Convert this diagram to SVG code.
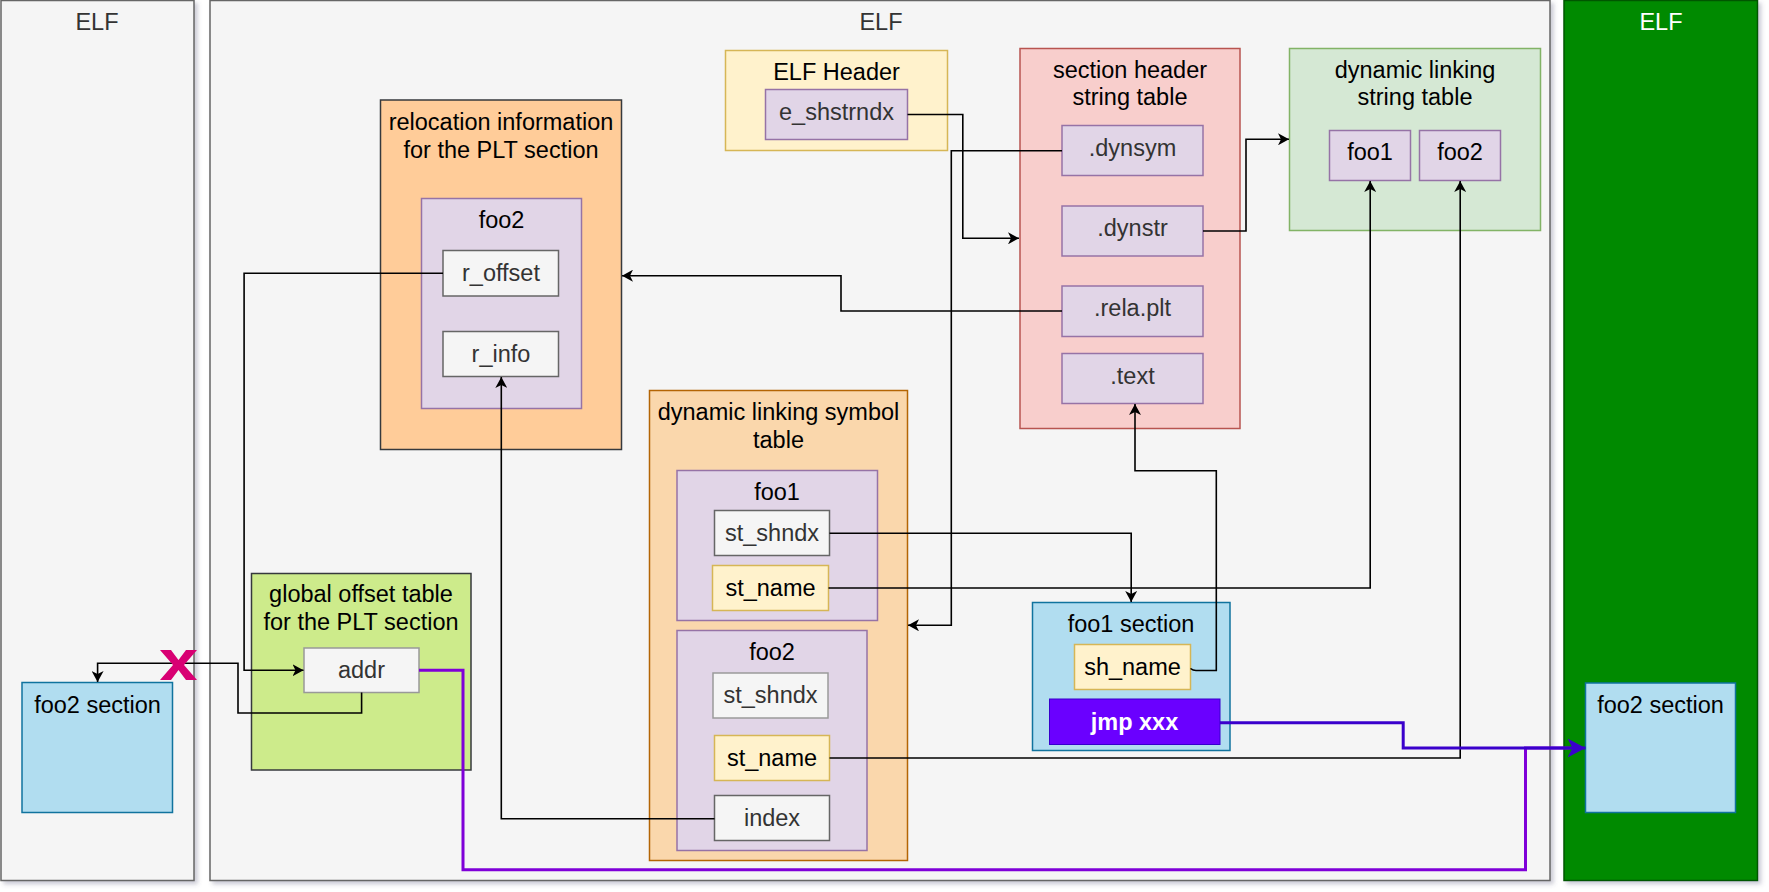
<svg xmlns="http://www.w3.org/2000/svg" width="1769" height="892" viewBox="0 0 1769 892">
<style>
text{font-family:"Liberation Sans",Arial,sans-serif;font-size:23.5px;text-anchor:middle;fill:#000}
.g{fill:#333333}
.w{fill:#ffffff}
.b{font-weight:bold}
.panel{fill:#f5f5f5;stroke:#666666;stroke-width:1.5}
.field{fill:#f5f5f5;stroke:#666666;stroke-width:1.5}
.purple{fill:#e1d5e7;stroke:#9673a6;stroke-width:1.5}
.yellow{fill:#fff2cc;stroke:#d6b656;stroke-width:1.5}
.blue{fill:#b1ddf0;stroke:#10739e;stroke-width:1.5}
.c{fill:none;stroke:#000;stroke-width:1.6}
</style>
<defs>
<filter id="sh" x="-5%" y="-5%" width="115%" height="115%">
<feDropShadow dx="3" dy="3" stdDeviation="2" flood-color="#555577" flood-opacity="0.3"/>
</filter>
<marker id="ar" markerUnits="userSpaceOnUse" markerWidth="12" markerHeight="12" refX="11" refY="6" orient="auto" viewBox="0 0 12 12">
<path d="M0,0 L11,6 L0,12 L3,6 z" fill="#000"/>
</marker>
<marker id="arb" markerUnits="userSpaceOnUse" markerWidth="19" markerHeight="19" refX="18" refY="9.5" orient="auto" viewBox="0 0 19 19">
<path d="M0,0 L18,9.5 L0,19 L5,9.5 z" fill="#3a00cc"/>
</marker>
</defs>

<g id="panel-left">
<rect class="panel" x="1" y="0.5" width="193" height="880" filter="url(#sh)"/>
<text class="g" x="97" y="30">ELF</text>
</g>
<g id="panel-middle">
<rect class="panel" x="210" y="0.5" width="1340" height="880" filter="url(#sh)"/>
<text class="g" x="881" y="30">ELF</text>
</g>
<g id="panel-right">
<rect x="1564" y="0.5" width="193.5" height="880" fill="#008a00" stroke="#005700" stroke-width="1.5" filter="url(#sh)"/>
<text class="w" x="1661" y="30">ELF</text>
</g>

<g id="reloc">
<rect x="380.5" y="100" width="241" height="349.5" fill="#ffcc99" stroke="#36393d" stroke-width="1.5"/>
<text x="501" y="129.5">relocation information</text>
<text x="501" y="157.5">for the PLT section</text>
</g>
<g id="reloc-foo2">
<rect class="purple" x="421.5" y="198.5" width="160" height="210"/>
<text x="501.5" y="228">foo2</text>
</g>
<g id="r_offset">
<rect class="field" x="443" y="250.5" width="115.5" height="45.5"/>
<text class="g" x="501" y="280.5">r_offset</text>
</g>
<g id="r_info">
<rect class="field" x="443" y="331.5" width="115.5" height="45"/>
<text class="g" x="501" y="362">r_info</text>
</g>

<g id="elf-header">
<rect class="yellow" x="725.5" y="50.5" width="222" height="100"/>
<text x="836.5" y="80">ELF Header</text>
</g>
<g id="e_shstrndx">
<rect class="purple" x="765.5" y="89.5" width="142" height="50"/>
<text class="g" x="836.5" y="120">e_shstrndx</text>
</g>

<g id="shstrtab">
<rect x="1020" y="48.5" width="220" height="380" fill="#f8cecc" stroke="#b85450" stroke-width="1.5"/>
<text x="1130" y="78">section header</text>
<text x="1130" y="105">string table</text>
</g>
<g id="dynsym-sec">
<rect class="purple" x="1062" y="125.5" width="141" height="50"/>
<text class="g" x="1132.5" y="155.5">.dynsym</text>
</g>
<g id="dynstr-sec">
<rect class="purple" x="1062" y="206" width="141" height="50"/>
<text class="g" x="1132.5" y="236">.dynstr</text>
</g>
<g id="relaplt-sec">
<rect class="purple" x="1062" y="286" width="141" height="50.5"/>
<text class="g" x="1132.5" y="316">.rela.plt</text>
</g>
<g id="text-sec">
<rect class="purple" x="1062" y="353.5" width="141" height="50"/>
<text class="g" x="1132.5" y="383.5">.text</text>
</g>

<g id="dynstr-table">
<rect x="1289.5" y="48.5" width="251" height="182" fill="#d5e8d4" stroke="#82b366" stroke-width="1.5"/>
<text x="1415" y="77.5">dynamic linking</text>
<text x="1415" y="105">string table</text>
</g>
<g id="str-foo1">
<rect class="purple" x="1329.5" y="130.5" width="81" height="50"/>
<text x="1370" y="160">foo1</text>
</g>
<g id="str-foo2">
<rect class="purple" x="1419.5" y="130.5" width="81" height="50"/>
<text x="1460" y="160">foo2</text>
</g>

<g id="dynsym-table">
<rect x="649.5" y="390.5" width="258" height="470" fill="#fad7ac" stroke="#b46504" stroke-width="1.5"/>
<text x="778.5" y="419.5">dynamic linking symbol</text>
<text x="778.5" y="447.5">table</text>
</g>
<g id="sym-foo1">
<rect class="purple" x="677" y="470.5" width="200.5" height="150"/>
<text x="777" y="500">foo1</text>
</g>
<g id="sym-foo1-st_shndx">
<rect class="field" x="714.5" y="510.5" width="115" height="45"/>
<text class="g" x="772" y="540.5">st_shndx</text>
</g>
<g id="sym-foo1-st_name">
<rect class="yellow" x="712.5" y="565.5" width="116" height="45"/>
<text x="770.5" y="595.5">st_name</text>
</g>
<g id="sym-foo2">
<rect class="purple" x="677" y="630.5" width="190" height="220"/>
<text x="772" y="659.5">foo2</text>
</g>
<g id="sym-foo2-st_shndx">
<rect class="field" x="713" y="673" width="115" height="45" style="stroke:#9a9a9a"/>
<text class="g" x="770.5" y="703">st_shndx</text>
</g>
<g id="sym-foo2-st_name">
<rect class="yellow" x="714.5" y="735.5" width="115" height="45"/>
<text x="772" y="765.5">st_name</text>
</g>
<g id="sym-foo2-index">
<rect class="field" x="714.5" y="795.5" width="115" height="45"/>
<text class="g" x="772" y="825.5">index</text>
</g>

<g id="foo1-section">
<rect class="blue" x="1032.5" y="602.5" width="197.5" height="148"/>
<text x="1131" y="631.5">foo1 section</text>
</g>
<g id="sh_name">
<rect class="yellow" x="1074.5" y="644.5" width="116" height="45"/>
<text x="1132.5" y="674.5">sh_name</text>
</g>
<g id="jmp">
<rect x="1049.5" y="699" width="170.5" height="45.5" fill="#6a00ff" stroke="#3700cc" stroke-width="1"/>
<text class="w b" x="1134.5" y="729.5">jmp xxx</text>
</g>

<g id="got">
<rect x="251.5" y="573.5" width="219.5" height="196.5" fill="#cdeb8b" stroke="#36393d" stroke-width="1.5"/>
<text x="361" y="602">global offset table</text>
<text x="361" y="630">for the PLT section</text>
</g>
<g id="addr">
<rect class="field" x="304" y="648" width="115" height="44.5" style="stroke:#999999"/>
<text class="g" x="361.5" y="678">addr</text>
</g>

<g id="foo2-section-left">
<rect class="blue" x="22" y="682.5" width="150.5" height="130"/>
<text x="97.5" y="713">foo2 section</text>
</g>
<g id="foo2-section-right">
<rect class="blue" x="1585.5" y="683" width="150" height="129.5"/>
<text x="1660.5" y="713">foo2 section</text>
</g>

<g id="connectors">
<path class="c" d="M907.5,114.5 H962.8 V238.3 H1019" marker-end="url(#ar)"/>
<path class="c" d="M1203,231 H1246 V139.3 H1289" marker-end="url(#ar)"/>
<path class="c" d="M1062,150.7 H951.3 V625.3 H908" marker-end="url(#ar)"/>
<path class="c" d="M1062,311 H841 V275.7 H622" marker-end="url(#ar)"/>
<path class="c" d="M829.5,533.3 H1131.2 V602" marker-end="url(#ar)"/>
<path class="c" d="M828.5,588 H1370.2 V181" marker-end="url(#ar)"/>
<path class="c" d="M829.5,758 H1460.2 V181" marker-end="url(#ar)"/>
<path class="c" d="M1190.5,668.5 Q1193,670.5 1196,670.5 H1216.3 V470.7 H1135 V404" marker-end="url(#ar)"/>
<path class="c" d="M714.5,818.7 H501.3 V377" marker-end="url(#ar)"/>
<path class="c" d="M443,273.3 H244.1 V670.3 H303.5" marker-end="url(#ar)"/>
<path class="c" d="M361.6,692.5 V713 H238 V663.3 H97.6 V682" marker-end="url(#ar)"/>
<path fill="none" stroke="#7f00d8" stroke-width="3" d="M419,670.3 H463 V869.7 H1525.5 V748 H1570"/>
<path fill="none" stroke="#3a00cc" stroke-width="3" d="M1220,722.7 H1403.2 V748 H1585.5" marker-end="url(#arb)"/>
<polygon fill="#d80073" points="160,650 171,650 178.5,660 186,650 197,650 184,665 197,680 186,680 178.5,670 171,680 160,680 173,665"/>
</g>
</svg>
